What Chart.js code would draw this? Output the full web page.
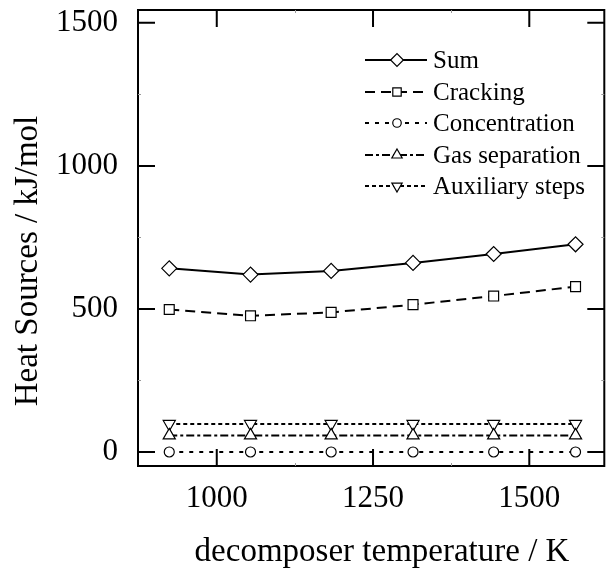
<!DOCTYPE html>
<html>
<head>
<meta charset="utf-8">
<script src="https://cdn.jsdelivr.net/npm/chart.js@4"></script>
<style>
  html, body { margin: 0; padding: 0; background: #fff; }
  canvas { display: block; }
</style>
</head>
<body>
<canvas id="heatChart" width="613" height="573"></canvas>
<script>
// decomposer temperature (K)
const temperatures = [924, 1054, 1183, 1314, 1443, 1574];

// heat sources (kJ/mol)
const sumHeat = [642, 620, 633, 661, 692, 726];
const crackingHeat = [498, 476, 488, 515, 545, 578];
const concentrationHeat = [0, 0, 0, 0, 0, 0];
const gasSeparationHeat = [58, 58, 58, 58, 58, 58];
const auxiliaryHeat = [98, 98, 98, 98, 98, 98];

const seriesNames = ["Sum", "Cracking", "Concentration", "Gas separation", "Auxiliary steps"];

const xTicks = [1000, 1250, 1500];
const yTicks = [0, 500, 1000, 1500];
const xMinorTicks = [1125, 1375];
const yMinorTicks = [250, 750, 1250];

const xTitle = "decomposer temperature / K";
const yTitle = "Heat Sources / kJ/mol";

const FONT = "'Liberation Serif', 'Times New Roman', serif";

function toPoints(values) {
  return temperatures.map((t, i) => ({ x: t, y: values[i] }));
}

function makeSeries(label, values, dash, pointStyle, radius, rotation) {
  return {
    label: label,
    data: toPoints(values),
    borderColor: "#000",
    borderWidth: 2,
    borderDash: dash,
    backgroundColor: "#fff",
    pointStyle: pointStyle,
    pointRadius: radius,
    pointRotation: rotation || 0,
    pointBorderWidth: 1.2,
    pointBorderColor: "#000",
    pointBackgroundColor: "#fff",
    tension: 0,
    fill: false,
  };
}

// draw a marker the same way as the plot, for the legend
function drawMarker(ctx, style, x, y, r, rotation) {
  ctx.save();
  ctx.setLineDash([]);
  ctx.lineWidth = 1.2;
  ctx.strokeStyle = "#000";
  ctx.fillStyle = "#fff";
  ctx.beginPath();
  if (style === "circle") {
    ctx.arc(x, y, r, 0, Math.PI * 2);
  } else if (style === "rect") {
    const s = r * Math.SQRT1_2;
    ctx.rect(x - s, y - s, 2 * s, 2 * s);
  } else if (style === "rectRot") {
    ctx.moveTo(x - r, y);
    ctx.lineTo(x, y - r);
    ctx.lineTo(x + r, y);
    ctx.lineTo(x, y + r);
  } else if (style === "triangle") {
    const f = rotation === 180 ? -1 : 1;
    ctx.moveTo(x, y - f * r);
    ctx.lineTo(x + r * 0.866, y + f * r / 2);
    ctx.lineTo(x - r * 0.866, y + f * r / 2);
  }
  ctx.closePath();
  ctx.fill();
  ctx.stroke();
  ctx.restore();
}

// box frame with inward ticks on all four sides, plus axis titles
const framePlugin = {
  id: "frame",
  afterDraw(chart) {
    const { ctx, chartArea: a, scales } = chart;
    ctx.save();
    ctx.strokeStyle = "#000";
    ctx.lineWidth = 2;
    ctx.setLineDash([]);
    ctx.strokeRect(a.left, a.top, a.right - a.left, a.bottom - a.top);

    ctx.beginPath();
    xTicks.forEach((v) => {
      const px = scales.x.getPixelForValue(v);
      ctx.moveTo(px, a.bottom); ctx.lineTo(px, a.bottom - 17);
      ctx.moveTo(px, a.top); ctx.lineTo(px, a.top + 17);
    });
    yTicks.forEach((v) => {
      const py = scales.y.getPixelForValue(v);
      ctx.moveTo(a.left, py); ctx.lineTo(a.left + 17, py);
      ctx.moveTo(a.right, py); ctx.lineTo(a.right - 17, py);
    });
    ctx.stroke();

    ctx.strokeStyle = "#999";
    ctx.lineWidth = 1;
    ctx.beginPath();
    xMinorTicks.forEach((v) => {
      const px = Math.round(scales.x.getPixelForValue(v)) + 0.5;
      ctx.moveTo(px, a.bottom); ctx.lineTo(px, a.bottom - 3);
      ctx.moveTo(px, a.top); ctx.lineTo(px, a.top + 3);
    });
    yMinorTicks.forEach((v) => {
      const py = Math.round(scales.y.getPixelForValue(v)) + 0.5;
      ctx.moveTo(a.left, py); ctx.lineTo(a.left + 3, py);
      ctx.moveTo(a.right, py); ctx.lineTo(a.right - 3, py);
    });
    ctx.stroke();

    // axis titles
    ctx.fillStyle = "#000";
    ctx.textAlign = "center";
    ctx.textBaseline = "middle";
    ctx.font = "33px " + FONT;
    ctx.fillText(xTitle, 382, 552);
    ctx.translate(28, 261);
    ctx.rotate(-Math.PI / 2);
    ctx.fillText(yTitle, 0, 0);
    ctx.restore();
  },
};

// legend inside the plot: line sample with marker, then label
const legendPlugin = {
  id: "innerLegend",
  afterDraw(chart) {
    const ctx = chart.ctx;
    const x0 = 365, x1 = 427, xm = 397, xt = 433;
    const rows = [60, 92, 123, 155, 186];
    ctx.save();
    chart.data.datasets.forEach((ds, i) => {
      const y = rows[i];
      ctx.strokeStyle = "#000";
      ctx.lineWidth = ds.borderWidth;
      ctx.setLineDash(ds.borderDash);
      ctx.beginPath();
      ctx.moveTo(x0, y);
      ctx.lineTo(x1, y);
      ctx.stroke();
      drawMarker(ctx, ds.pointStyle, xm, y, ds.pointRadius * 0.85, ds.pointRotation);
      ctx.fillStyle = "#000";
      ctx.font = "25px " + FONT;
      ctx.textAlign = "left";
      ctx.textBaseline = "middle";
      ctx.fillText(ds.label, xt, y + 1);
    });
    ctx.restore();
  },
};

function noOverflow(s) {
  s.paddingTop = 0;
  s.paddingBottom = 0;
  s.paddingLeft = 0;
  s.paddingRight = 0;
}

new Chart(document.getElementById("heatChart").getContext("2d"), {
  type: "line",
  data: {
    datasets: [
      makeSeries(seriesNames[0], sumHeat, [], "rectRot", 7.5),
      makeSeries(seriesNames[1], crackingHeat, [10, 6], "rect", 7),
      makeSeries(seriesNames[2], concentrationHeat, [4, 6], "circle", 5),
      makeSeries(seriesNames[3], gasSeparationHeat, [8, 3, 3, 3], "triangle", 7),
      makeSeries(seriesNames[4], auxiliaryHeat, [4, 3], "triangle", 7, 180),
    ],
  },
  options: {
    responsive: false,
    animation: false,
    layout: { padding: { top: 10, right: 1, left: 0, bottom: 0 } },
    plugins: {
      legend: { display: false },
      tooltip: { enabled: false },
    },
    scales: {
      x: {
        type: "linear",
        min: 874,
        max: 1620,
        afterBuildTicks: (s) => { s.ticks = xTicks.map((v) => ({ value: v })); },
        afterFit: (s) => { s.height = 107; noOverflow(s); },
        grid: { display: false, drawTicks: false },
        border: { display: false },
        ticks: {
          padding: 14,
          color: "#000",
          maxRotation: 0,
          font: { family: FONT, size: 31 },
          callback: (v) => String(v),
        },
      },
      y: {
        type: "linear",
        min: -49,
        max: 1545,
        afterBuildTicks: (s) => { s.ticks = yTicks.map((v) => ({ value: v })); },
        afterFit: (s) => { s.width = 138; noOverflow(s); },
        grid: { display: false, drawTicks: false },
        border: { display: false },
        ticks: {
          padding: 20,
          color: "#000",
          font: { family: FONT, size: 31 },
          callback: (v) => String(v),
        },
      },
    },
  },
  plugins: [framePlugin, legendPlugin],
});
</script>
</body>
</html>
